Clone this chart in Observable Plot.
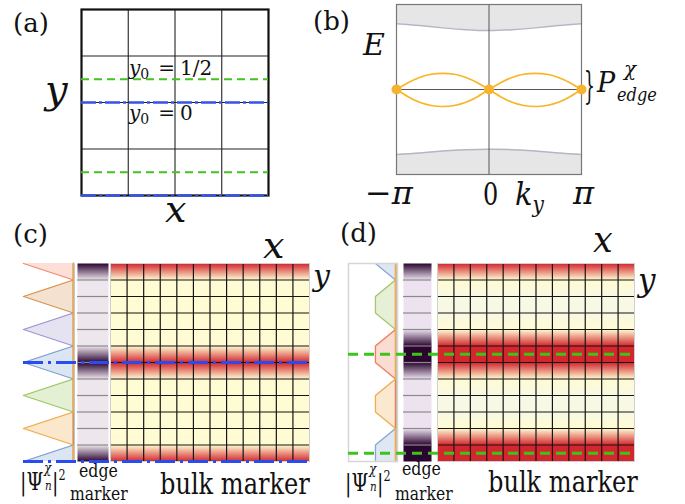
<!DOCTYPE html>
<html>
<head>
<meta charset="utf-8">
<script src="https://cdn.jsdelivr.net/npm/d3@7"></script>
<script src="https://cdn.jsdelivr.net/npm/@observablehq/plot@0.6"></script>
<style>
html,body{margin:0;padding:0;background:#fff;}
#root{position:relative;width:685px;height:504px;overflow:hidden;background:#fff;color:#111;}
#root svg{position:absolute;overflow:visible;background:transparent;max-width:none;}
</style>
</head>
<body>
<div id="root"></div>
<script>
const ROWS = 12, COLS = 12;

// ---- panel (a): lattice, in cell units ----
const aGrid = [1, 2, 3];
const aGreen = [1.5, 3.5];   // y0 = 1/2 cuts
const aBlue = [2, 4];        // y0 = 0 cuts

// ---- panel (b): spectrum, k in units of pi ----
const bK = [-1, -0.75, -0.5, -0.25, 0, 0.25, 0.5, 0.75, 1];
const bTop = [0.773, 0.752, 0.725, 0.704, 0.694, 0.704, 0.725, 0.752, 0.773];
const bBot = [-0.765, -0.747, -0.724, -0.708, -0.702, -0.708, -0.724, -0.747, -0.765];
const lobeK = [0, 0.125, 0.25, 0.375, 0.5, 0.625, 0.75, 0.875, 1];
const lobeStart = [-1, 0];
const lobeUpper = [0, 0.08, 0.142, 0.179, 0.19, 0.179, 0.142, 0.08, 0];
const lobeLower = [0, -0.084, -0.15, -0.188, -0.2, -0.188, -0.15, -0.084, 0];
const nodeK = [-1, 0, 1];

// ---- panel (c): y0 = 0 ----
const cBulk = [1, 0.12, 0.12, 0.12, 0.12, 0.12, 1, 0.12, 0.12, 0.12, 0.12, 0.12, 1];
const cEdge = [1, 0.1, 0.1, 0.1, 0.1, 0.1, 1, 0.1, 0.1, 0.1, 0.1, 0.1, 1];
const cPsiColors = ["#f4876a", "#d8914e", "#9f95cf", "#7d9fcf", "#9cc65e", "#f0a944", "#7d9fcf"];
const cPsiY = [[0, 1, 12], [0, 1, 2, 3, 12], [0, 3, 4, 5, 12], [0, 5, 6, 7, 12], [0, 7, 8, 9, 12], [0, 9, 10, 11, 12], [0, 11, 12]];
const cPsiV = [[1, 0, 0], [0, 0, 1, 0, 0], [0, 0, 1, 0, 0], [0, 0, 1, 0, 0], [0, 0, 1, 0, 0], [0, 0, 1, 0, 0], [0, 0, 1]];
const cCuts = [6, 12];

// ---- panel (d): y0 = 1/2 ----
const dBulk = [1, 0.12, 0.03, 0.03, 0.12, 1, 1, 0.12, 0.03, 0.03, 0.12, 1, 1];
const dEdge = [1, 0.1, 0.1, 0.1, 0.1, 1, 1, 0.1, 0.1, 0.1, 0.1, 1, 1];
const dPsiColors = ["#88a8d4", "#a6c66c", "#f07c5e", "#eeae50"];
const dPsiY = [[0, 1, 10, 11, 12], [0, 1, 2, 3, 4, 12], [0, 4, 5, 6, 7, 12], [0, 7, 8, 9, 10, 12]];
const dPsiV = [[0.45, 0.04, 0.04, 0.45, 0.45], [0.04, 0.04, 0.45, 0.45, 0.04, 0.04], [0.04, 0.04, 0.45, 0.45, 0.04, 0.04], [0.04, 0.04, 0.45, 0.45, 0.04, 0.04]];
const dCuts = [5.5, 11.5];

// ---------------------------------------------------------------
const SERIF = "'DejaVu Serif', serif";
const root = document.getElementById("root");
function place(svg, left, top) {
  svg.style.left = left + "px";
  svg.style.top = top + "px";
  svg.style.overflow = "visible";
  svg.style.background = "transparent";
  svg.style.maxWidth = "none";
  root.appendChild(svg);
}
function base(w, h, xd, yd, marks, extra = {}) {
  return Plot.plot({width: w, height: h, margin: 0, x: {domain: xd, axis: null}, y: {domain: yd, axis: null}, marks, ...extra});
}
function T(html, x, b, size, sx = 1) {
  const d = document.createElement("div");
  d.style.position = "absolute";
  d.style.whiteSpace = "nowrap";
  d.style.lineHeight = "1";
  d.style.fontFamily = SERIF;
  d.style.fontSize = size + "px";
  d.style.left = x + "px";
  d.style.top = (b - 0.846 * size) + "px";
  if (sx !== 1) { d.style.transform = `scaleX(${sx})`; d.style.transformOrigin = "left"; }
  d.innerHTML = html;
  root.appendChild(d);
}
const lerp = (v, y) => {
  const i = Math.max(0, Math.min(v.length - 2, Math.floor(y)));
  const t = y - i;
  return v[i] + (v[i + 1] - v[i]) * t;
};

// (a)
place(base(187, 186, [0, 4], [4, 0], [
  Plot.ruleX(aGrid, {stroke: "#222", strokeWidth: 1.1}),
  Plot.ruleY(aGrid, {stroke: "#222", strokeWidth: 1.1}),
  Plot.frame({stroke: "#111", strokeWidth: 2.2}),
  Plot.ruleY(aGreen, {stroke: "#44c21e", strokeWidth: 2, strokeDasharray: "8 5"}),
  Plot.ruleY(aBlue, {stroke: "#3653e8", strokeWidth: 2.5, strokeDasharray: "15 3 3 3"})
]), 81, 9);

// (b)
const bandRows = bK.map((k, i) => ({k, top: bTop[i], bot: bBot[i]}));
const lobeRows = [];
lobeStart.forEach((k0, li) => {
  lobeK.forEach((f, j) => {
    lobeRows.push({arc: "u" + li, k: k0 + f, E: lobeUpper[j]});
    lobeRows.push({arc: "l" + li, k: k0 + f, E: lobeLower[j]});
  });
});
place(base(185, 170, [-1, 1], [-1, 1], [
  Plot.areaY(bandRows, {x: "k", y1: "top", y2: () => 1, curve: "natural", fill: "#e6e6e6"}),
  Plot.areaY(bandRows, {x: "k", y1: () => -1, y2: "bot", curve: "natural", fill: "#e6e6e6"}),
  Plot.line(bandRows, {x: "k", y: "top", curve: "natural", stroke: "#b2b8c2", strokeWidth: 1.5}),
  Plot.line(bandRows, {x: "k", y: "bot", curve: "natural", stroke: "#b2b8c2", strokeWidth: 1.5}),
  Plot.ruleX([0], {stroke: "#555", strokeWidth: 1}),
  Plot.ruleY([0], {stroke: "#555", strokeWidth: 1}),
  Plot.line(lobeRows, {x: "k", y: "E", z: "arc", curve: "natural", stroke: "#f8b526", strokeWidth: 1.7}),
  Plot.frame({stroke: "#777", strokeWidth: 1.2}),
  Plot.dot(nodeK, {x: d => d, y: () => 0, r: 5, fill: "#f8b32e", stroke: "none"})
]), 396, 4);

// strips
function psiStrip(ys, vs, colors, order, w, left, frame) {
  const series = ys.map((y, i) => y.map((yy, j) => ({y: yy, v: vs[i][j]})));
  const marks = [];
  series.forEach((s, i) => marks.push(Plot.areaX(s, {y: "y", x1: () => 0, x2: "v", fill: colors[i], fillOpacity: 0.27})));
  order.forEach(i => marks.push(Plot.lineX(series[i], {y: "y", x: "v", stroke: colors[i], strokeWidth: 1.3})));
  if (frame) marks.push(Plot.frame({stroke: "#d6d6d6", strokeWidth: 1.5}));
  place(base(w, 198, [1, 0], [ROWS, 0], marks), left, 263);
}
function edgeStrip(vals, light, w, left) {
  place(base(w, 198, [0, 1], [ROWS, 0], [
    Plot.raster({x1: 0, x2: 1, y1: 0, y2: ROWS, width: 1, height: 396, fill: (x, y) => lerp(vals, y)}),
    Plot.ruleY(d3.range(1, ROWS), {stroke: "#8a8a8a", strokeWidth: 1.2})
  ], {color: {type: "linear", domain: [0.1, 1], range: [light, "#2b0530"], interpolate: "rgb"}}), left, 263);
}
function bulk(vals, w, left) {
  place(base(w, 198, [0, COLS], [ROWS, 0], [
    Plot.raster({x1: 0, x2: COLS, y1: 0, y2: ROWS, width: 1, height: 396, fill: (x, y) => lerp(vals, y)}),
    Plot.ruleX(d3.range(1, COLS), {stroke: "#151515", strokeWidth: 1.2}),
    Plot.ruleY(d3.range(1, ROWS), {stroke: "#151515", strokeWidth: 1.2}),
    Plot.frame({stroke: "#cfcfcf", strokeWidth: 1})
  ], {color: {type: "linear", domain: [0, 0.12, 1], range: ["#f6f8ea", "#fffbd3", "#d4262d"], interpolate: "rgb"}}), left, 263);
}
function overlay(cuts, style, w, left) {
  place(base(w, 198, [0, 1], [ROWS, 0], [Plot.ruleY(cuts, style)]), left, 263);
}

// (c)
psiStrip(cPsiY, cPsiV, cPsiColors, [0, 2, 3, 4, 6, 1, 5], 50, 23, false);
edgeStrip(cEdge, "#ede6ec", 31, 77);
bulk(cBulk, 199, 110);
overlay(cCuts, {stroke: "#2b4bf2", strokeWidth: 3, strokeDasharray: "20 5 3 5"}, 286, 23);

// (d)
psiStrip(dPsiY, dPsiV, dPsiColors, [0, 1, 2, 3], 49, 348, true);
edgeStrip(dEdge, "#ece2f0", 28, 403);
bulk(dBulk, 197, 437);
overlay(dCuts, {stroke: "#3cc41a", strokeWidth: 3, strokeDasharray: "10 6"}, 286, 348);

// ---- text ----
const SUB0 = `<span style="font-size:0.7em;position:relative;top:0.3em">0</span>`;
T("(a)", 13, 32, 26);
T("<i>y</i>", 45, 103, 40);
T("<i>x</i>", 165, 222, 38);
T(`<i>y</i>${SUB0}<span style="margin-left:9px">=</span><span style="margin-left:5px">1/2</span>`, 129, 75, 20);
T(`<i>y</i>${SUB0}<span style="margin-left:9px">=</span><span style="margin-left:5px">0</span>`, 129, 120, 20);

T("(b)", 313, 30, 26);
T("<i>E</i>", 363, 55, 30);
T("−<i>π</i>", 365, 204, 32);
T("0", 483, 205, 32, 0.75);
T(`<i>k</i><span style="font-size:0.7em;position:relative;top:0.3em"><i>y</i></span>`, 515, 205, 32, 0.9);
T("<i>π</i>", 573, 204, 32);
T("}", 584, 98, 38, 0.45);
T("<i>P</i>", 597, 92, 27);
T("<i>χ</i>", 624, 76, 20);
T("<i>edge</i>", 617, 101, 19, 0.85);

T("(c)", 13, 243, 26);
T("<i>x</i>", 263, 258, 38);
T("<i>y</i>", 313, 286, 30);
T("(d)", 340, 242, 26);
T("<i>x</i>", 593, 253, 35);
T("<i>y</i>", 638, 291, 31);

const PSI = `|Ψ<span style="position:relative;display:inline-block;width:11px;height:0"><i style="position:absolute;left:1px;top:-29px;font-size:15px">χ</i><i style="position:absolute;left:2px;top:-11px;font-size:13px">n</i></span>|<span style="font-size:14px;position:relative;top:-10px">2</span>`;
T(PSI, 20, 490, 24, 0.8);
T(PSI, 345, 491, 24, 0.8);
T("edge", 79, 477, 19, 0.83);
T("marker", 70, 500, 19, 0.82);
T("bulk marker", 160, 495, 29, 0.83);
T("edge", 402, 475, 19, 0.83);
T("marker", 395, 500, 19, 0.82);
T("bulk marker", 488, 493, 29, 0.83);
</script>
</body>
</html>
